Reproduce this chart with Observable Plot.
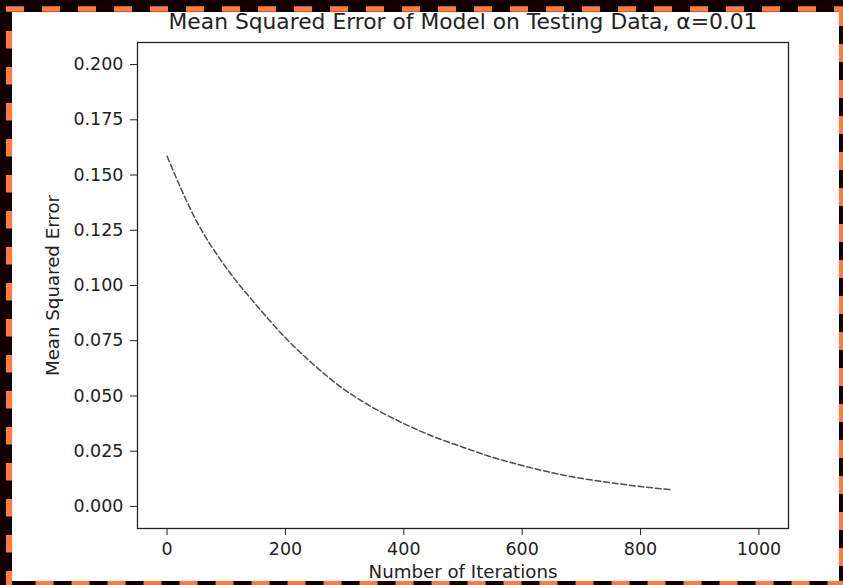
<!DOCTYPE html>
<html>
<head>
<meta charset="utf-8">
<script src="https://cdn.jsdelivr.net/npm/d3@7"></script>
<script src="https://cdn.jsdelivr.net/npm/@observablehq/plot@0.6"></script>
<style>
  html, body { margin: 0; padding: 0; width: 843px; height: 585px; overflow: hidden; background: #110000; }
  #frame { position: absolute; left: 0; top: 0; }
  #chart { position: absolute; left: 0; top: 0; }
  #chart svg { background: transparent; }
</style>
</head>
<body>
<svg id="frame" width="843" height="585">
  <rect x="12" y="12" width="827" height="569" fill="#ffffff"></rect>
  <line x1="6" y1="9" x2="843" y2="9" stroke="#ff7b3d" stroke-width="5.5" stroke-dasharray="18 18"></line>
  <line x1="9" y1="31" x2="9" y2="585" stroke="#ff7b3d" stroke-width="6" stroke-dasharray="17.5 18.5"></line>
  <line x1="842" y1="8" x2="842" y2="585" stroke="#ff7b3d" stroke-width="6" stroke-dasharray="18 18"></line>
  <line x1="35.5" y1="584" x2="843" y2="584" stroke="#ff7b3d" stroke-width="6" stroke-dasharray="18 18"></line>
</svg>
<div id="chart"></div>
<script>
// Values
const iterations = [0, 50, 100, 150, 200, 250, 300, 350, 400, 450, 500, 550, 600, 650, 700, 750, 800, 850];
const mse = [0.1585, 0.129, 0.108, 0.0914, 0.0763, 0.0636, 0.0528, 0.0444, 0.0375, 0.0316, 0.0268, 0.0222, 0.0185, 0.0153, 0.0127, 0.0107, 0.0090, 0.0076];
const xTicks = [0, 200, 400, 600, 800, 1000];
const yTicks = [0.000, 0.025, 0.050, 0.075, 0.100, 0.125, 0.150, 0.175, 0.200];
const titleText = "Mean Squared Error of Model on Testing Data, α=0.01";
const xLabel = "Number of Iterations";
const yLabel = "Mean Squared Error";

const data = iterations.map((it, i) => ({it, v: mse[i]}));

const chart = Plot.plot({
  width: 843,
  height: 585,
  marginLeft: 137,
  marginRight: 55,
  marginTop: 42,
  marginBottom: 57,
  style: {fontFamily: "DejaVu Sans", fontSize: "17.5px", color: "#222", background: "transparent"},
  x: {domain: [-50, 1050], label: null},
  y: {domain: [-0.01, 0.21], label: null},
  marks: [
    Plot.axisX({ticks: xTicks, tickSize: 7, tickPadding: 7, tickFormat: d3.format("d"), label: null, stroke: "#222"}),
    Plot.axisY({ticks: yTicks, tickSize: 7, tickPadding: 7, tickFormat: d3.format(".3f"), label: null, stroke: "#222"}),
    Plot.frame({stroke: "#222", strokeWidth: 1.3}),
    Plot.line(data, {x: "it", y: "v", curve: "monotone-x", stroke: "#4d4d4d", strokeWidth: 1.5, strokeDasharray: "5.8,2.9"}),
    Plot.text([titleText], {frameAnchor: "top", dy: -20, lineAnchor: "middle", fontSize: 21.8, fill: "#222"}),
    Plot.text([xLabel], {frameAnchor: "bottom", dy: 44, lineAnchor: "middle", fontSize: 18.2, fill: "#222"}),
    Plot.text([yLabel], {frameAnchor: "left", dx: -84, rotate: -90, textAnchor: "middle", lineAnchor: "middle", fontSize: 18.2, fill: "#222"})
  ]
});
document.getElementById("chart").appendChild(chart);
</script>
</body>
</html>
